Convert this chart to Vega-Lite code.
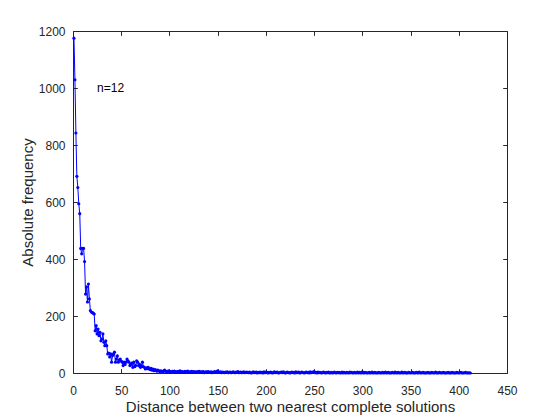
{
"$schema": "https://vega.github.io/schema/vega-lite/v6.json",
"width": 434, "height": 342,
"autosize": {"type": "none"},
"padding": {"left": 73, "top": 31, "right": 53, "bottom": 47},
"background": "white",
"config": {"view": {"stroke": "#262626", "strokeWidth": 1}, "font": "Liberation Sans",
 "axis": {"grid": false, "domain": false, "tickColor": "#262626", "tickSize": -4.3, "labelColor": "#262626", "titleColor": "#262626", "labelFontSize": 12, "titleFontSize": 15, "titleFontWeight": "normal", "labelFont": "Liberation Sans", "titleFont": "Liberation Sans", "format": "d"}},
"data": {"values": [
{"x":1,"y":1175},{"x":2,"y":1029},{"x":3,"y":842},{"x":4,"y":690},{"x":5,"y":651},{"x":6,"y":594},{"x":7,"y":559},{"x":8,"y":437},{"x":9,"y":418},{"x":10,"y":437},
{"x":11,"y":437},{"x":12,"y":391},{"x":13,"y":277},{"x":14,"y":302},{"x":15,"y":249},{"x":16,"y":312},{"x":17,"y":260},{"x":18,"y":219},{"x":19,"y":214},{"x":20,"y":212},
{"x":21,"y":210},{"x":22,"y":207},{"x":23,"y":148},{"x":24,"y":166},{"x":25,"y":137},{"x":26,"y":154},{"x":27,"y":131},{"x":28,"y":143},{"x":29,"y":113},{"x":30,"y":119},
{"x":31,"y":137},{"x":32,"y":108},{"x":33,"y":96},{"x":34,"y":113},{"x":35,"y":96},{"x":36,"y":67},{"x":37,"y":70},{"x":38,"y":56},{"x":39,"y":67},{"x":40,"y":38},
{"x":41,"y":61},{"x":42,"y":67},{"x":43,"y":73},{"x":44,"y":38},{"x":45,"y":49},{"x":46,"y":60},{"x":47,"y":38},{"x":48,"y":45},{"x":49,"y":49},{"x":50,"y":42},
{"x":51,"y":38},{"x":52,"y":26},{"x":53,"y":38},{"x":54,"y":30},{"x":55,"y":38},{"x":56,"y":49},{"x":57,"y":43},{"x":58,"y":38},{"x":59,"y":26},{"x":60,"y":30},
{"x":61,"y":35},{"x":62,"y":20},{"x":63,"y":38},{"x":64,"y":22},{"x":65,"y":26},{"x":66,"y":43},{"x":67,"y":38},{"x":68,"y":26},{"x":69,"y":30},{"x":70,"y":20},
{"x":71,"y":25},{"x":72,"y":38},{"x":73,"y":22},{"x":74,"y":20},{"x":75,"y":14},{"x":76,"y":18},{"x":77,"y":15},{"x":78,"y":20},{"x":79,"y":14},{"x":80,"y":12},
{"x":81,"y":16},{"x":82,"y":10},{"x":83,"y":14},{"x":84,"y":8},{"x":85,"y":12},{"x":86,"y":10},{"x":87,"y":6},{"x":88,"y":10},{"x":89,"y":8},{"x":90,"y":5},
{"x":91,"y":8},{"x":92,"y":6},{"x":93,"y":4},{"x":94,"y":8},{"x":95,"y":10},{"x":96,"y":5},{"x":97,"y":6},{"x":98,"y":3},{"x":99,"y":8},{"x":100,"y":4},
{"x":101,"y":5},{"x":102,"y":3},{"x":103,"y":6},{"x":104,"y":4},{"x":105,"y":7},{"x":106,"y":3},{"x":107,"y":5},{"x":108,"y":2},{"x":109,"y":6},{"x":110,"y":4},
{"x":111,"y":8},{"x":112,"y":3},{"x":113,"y":5},{"x":114,"y":4},{"x":115,"y":2},{"x":116,"y":6},{"x":117,"y":3},{"x":118,"y":5},{"x":119,"y":7},{"x":120,"y":2},
{"x":121,"y":4},{"x":122,"y":3},{"x":123,"y":6},{"x":124,"y":2},{"x":125,"y":5},{"x":126,"y":3},{"x":127,"y":4},{"x":128,"y":2},{"x":129,"y":5},{"x":130,"y":3},
{"x":131,"y":6},{"x":132,"y":2},{"x":133,"y":4},{"x":134,"y":3},{"x":135,"y":5},{"x":136,"y":1},{"x":137,"y":3},{"x":138,"y":4},{"x":139,"y":2},{"x":140,"y":5},
{"x":141,"y":3},{"x":142,"y":2},{"x":143,"y":4},{"x":144,"y":1},{"x":145,"y":3},{"x":146,"y":2},{"x":147,"y":5},{"x":148,"y":2},{"x":149,"y":4},{"x":150,"y":8},
{"x":151,"y":3},{"x":152,"y":2},{"x":153,"y":4},{"x":154,"y":1},{"x":155,"y":3},{"x":156,"y":2},{"x":157,"y":1},{"x":158,"y":3},{"x":159,"y":2},{"x":160,"y":4},
{"x":161,"y":1},{"x":162,"y":2},{"x":163,"y":3},{"x":164,"y":1},{"x":165,"y":2},{"x":166,"y":4},{"x":167,"y":2},{"x":168,"y":1},{"x":169,"y":3},{"x":170,"y":2},
{"x":171,"y":5},{"x":172,"y":1},{"x":173,"y":2},{"x":174,"y":3},{"x":175,"y":1},{"x":176,"y":2},{"x":177,"y":4},{"x":178,"y":1},{"x":179,"y":2},{"x":180,"y":3},
{"x":181,"y":2},{"x":182,"y":1},{"x":183,"y":3},{"x":184,"y":1},{"x":185,"y":0},{"x":186,"y":2},{"x":187,"y":4},{"x":188,"y":1},{"x":189,"y":2},{"x":190,"y":3},
{"x":191,"y":0},{"x":192,"y":2},{"x":193,"y":1},{"x":194,"y":3},{"x":195,"y":1},{"x":196,"y":2},{"x":197,"y":0},{"x":198,"y":4},{"x":199,"y":1},{"x":200,"y":3},
{"x":201,"y":2},{"x":202,"y":0},{"x":203,"y":2},{"x":204,"y":1},{"x":205,"y":3},{"x":206,"y":1},{"x":207,"y":0},{"x":208,"y":2},{"x":209,"y":4},{"x":210,"y":1},
{"x":211,"y":2},{"x":212,"y":3},{"x":213,"y":0},{"x":214,"y":1},{"x":215,"y":2},{"x":216,"y":3},{"x":217,"y":1},{"x":218,"y":4},{"x":219,"y":2},{"x":220,"y":0},
{"x":221,"y":1},{"x":222,"y":3},{"x":223,"y":2},{"x":224,"y":1},{"x":225,"y":0},{"x":226,"y":2},{"x":227,"y":3},{"x":228,"y":1},{"x":229,"y":2},{"x":230,"y":0},
{"x":231,"y":4},{"x":232,"y":1},{"x":233,"y":2},{"x":234,"y":3},{"x":235,"y":0},{"x":236,"y":1},{"x":237,"y":3},{"x":238,"y":2},{"x":239,"y":1},{"x":240,"y":0},
{"x":241,"y":2},{"x":242,"y":3},{"x":243,"y":1},{"x":244,"y":2},{"x":245,"y":0},{"x":246,"y":4},{"x":247,"y":1},{"x":248,"y":2},{"x":249,"y":3},{"x":250,"y":5},
{"x":251,"y":1},{"x":252,"y":2},{"x":253,"y":0},{"x":254,"y":3},{"x":255,"y":1},{"x":256,"y":2},{"x":257,"y":1},{"x":258,"y":0},{"x":259,"y":2},{"x":260,"y":3},
{"x":261,"y":1},{"x":262,"y":0},{"x":263,"y":2},{"x":264,"y":1},{"x":265,"y":3},{"x":266,"y":0},{"x":267,"y":1},{"x":268,"y":2},{"x":269,"y":0},{"x":270,"y":1},
{"x":271,"y":3},{"x":272,"y":1},{"x":273,"y":0},{"x":274,"y":2},{"x":275,"y":1},{"x":276,"y":2},{"x":277,"y":0},{"x":278,"y":1},{"x":279,"y":3},{"x":280,"y":0},
{"x":281,"y":2},{"x":282,"y":1},{"x":283,"y":0},{"x":284,"y":2},{"x":285,"y":1},{"x":286,"y":0},{"x":287,"y":3},{"x":288,"y":1},{"x":289,"y":2},{"x":290,"y":0},
{"x":291,"y":1},{"x":292,"y":2},{"x":293,"y":0},{"x":294,"y":1},{"x":295,"y":3},{"x":296,"y":0},{"x":297,"y":2},{"x":298,"y":1},{"x":299,"y":0},{"x":300,"y":4},
{"x":301,"y":1},{"x":302,"y":0},{"x":303,"y":2},{"x":304,"y":1},{"x":305,"y":0},{"x":306,"y":1},{"x":307,"y":2},{"x":308,"y":0},{"x":309,"y":1},{"x":310,"y":3},
{"x":311,"y":0},{"x":312,"y":1},{"x":313,"y":2},{"x":314,"y":0},{"x":315,"y":1},{"x":316,"y":0},{"x":317,"y":2},{"x":318,"y":1},{"x":319,"y":0},{"x":320,"y":1},
{"x":321,"y":2},{"x":322,"y":0},{"x":323,"y":1},{"x":324,"y":3},{"x":325,"y":0},{"x":326,"y":1},{"x":327,"y":2},{"x":328,"y":0},{"x":329,"y":1},{"x":330,"y":0},
{"x":331,"y":2},{"x":332,"y":1},{"x":333,"y":0},{"x":334,"y":3},{"x":335,"y":1},{"x":336,"y":0},{"x":337,"y":2},{"x":338,"y":1},{"x":339,"y":0},{"x":340,"y":1},
{"x":341,"y":3},{"x":342,"y":0},{"x":343,"y":1},{"x":344,"y":2},{"x":345,"y":0},{"x":346,"y":1},{"x":347,"y":0},{"x":348,"y":2},{"x":349,"y":1},{"x":350,"y":0},
{"x":351,"y":1},{"x":352,"y":2},{"x":353,"y":0},{"x":354,"y":1},{"x":355,"y":0},{"x":356,"y":2},{"x":357,"y":1},{"x":358,"y":0},{"x":359,"y":3},{"x":360,"y":1},
{"x":361,"y":0},{"x":362,"y":1},{"x":363,"y":2},{"x":364,"y":0},{"x":365,"y":1},{"x":366,"y":0},{"x":367,"y":1},{"x":368,"y":2},{"x":369,"y":0},{"x":370,"y":1},
{"x":371,"y":0},{"x":372,"y":2},{"x":373,"y":1},{"x":374,"y":0},{"x":375,"y":1},{"x":376,"y":3},{"x":377,"y":0},{"x":378,"y":1},{"x":379,"y":0},{"x":380,"y":2},
{"x":381,"y":1},{"x":382,"y":0},{"x":383,"y":1},{"x":384,"y":2},{"x":385,"y":0},{"x":386,"y":1},{"x":387,"y":0},{"x":388,"y":1},{"x":389,"y":2},{"x":390,"y":0},
{"x":391,"y":1},{"x":392,"y":0},{"x":393,"y":2},{"x":394,"y":1},{"x":395,"y":0},{"x":396,"y":1},{"x":397,"y":0},{"x":398,"y":2},{"x":399,"y":1},{"x":400,"y":0},
{"x":401,"y":1},{"x":402,"y":2},{"x":403,"y":0},{"x":404,"y":1},{"x":405,"y":0},{"x":406,"y":1},{"x":407,"y":2},{"x":408,"y":0},{"x":409,"y":1},{"x":410,"y":0},
{"x":411,"y":1},{"x":412,"y":0}
]},
"layer": [
 {"mark": {"type": "line", "color": "#0000ff", "strokeWidth": 1},
  "encoding": {
   "x": {"field": "x", "type": "quantitative", "scale": {"domain": [0, 450], "nice": false, "zero": false},
    "axis": {"orient": "bottom", "values": [0,50,100,150,200,250,300,350,400,450], "labelPadding": 17, "title": "Distance between two nearest complete solutions", "titlePadding": 3, "labelFlush": false}},
   "y": {"field": "y", "type": "quantitative", "scale": {"domain": [0, 1200], "nice": false},
    "axis": {"orient": "left", "values": [0,200,400,600,800,1000,1200], "labelPadding": 12.3, "title": "Absolute frequency", "titlePadding": 3, "labelFlush": false}}
  }},
 {"mark": {"type": "point", "filled": true, "color": "#0000ff", "size": 10, "opacity": 1},
  "encoding": {
   "x": {"field": "x", "type": "quantitative", "axis": {"orient": "top", "values": [0,50,100,150,200,250,300,350,400,450], "labels": false, "title": null}},
   "y": {"field": "y", "type": "quantitative", "axis": {"orient": "right", "values": [0,200,400,600,800,1000,1200], "labels": false, "title": null}}
  }},
 {"data": {"values": [{"label": "n=12"}]},
  "mark": {"type": "text", "align": "left", "baseline": "middle", "fontSize": 12, "font": "Liberation Sans", "color": "#000000"},
  "encoding": {
   "x": {"datum": 25, "type": "quantitative", "axis": null},
   "y": {"datum": 1000, "type": "quantitative", "axis": null},
   "text": {"field": "label"}
  }}
],
"resolve": {"axis": {"x": "independent", "y": "independent"}}
}
